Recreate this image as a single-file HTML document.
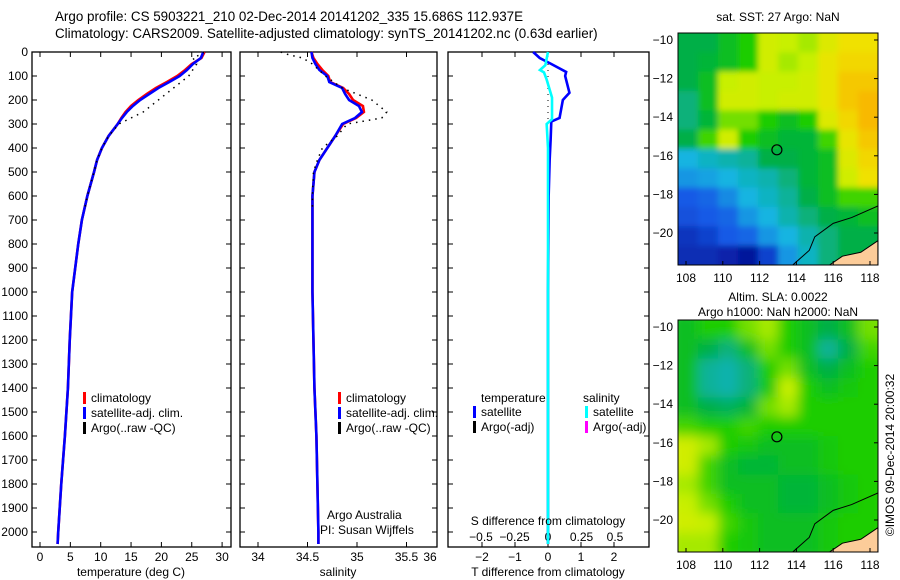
<!DOCTYPE html>
<html><head><meta charset="utf-8"><style>
body{margin:0;background:#fff;}
svg{display:block;font-family:"Liberation Sans",sans-serif;}
</style></head><body>
<svg id="c" width="900" height="580" xmlns="http://www.w3.org/2000/svg">
<text x="55" y="21" font-size="13.4">Argo profile: CS 5903221_210 02-Dec-2014 20141202_335 15.686S 112.937E</text>
<text x="55" y="38" font-size="13.4">Climatology: CARS2009. Satellite-adjusted climatology: synTS_20141202.nc (0.63d earlier)</text>
<g id="g"></g>
</svg>
<script>
// ---- profile data ----
const depths = [0,25,50,75,100,125,150,175,200,225,250,275,300,350,400,450,500,600,700,800,900,1000,1200,1400,1600,1800,2000,2050];
const tempSat = [26.9,26.5,25.2,24.2,23,21.3,19.5,18,16.5,15.3,14.3,13.5,12.8,11.3,10.2,9.4,8.9,7.8,6.9,6.3,5.8,5.3,4.9,4.6,4.1,3.5,3.0,2.9];
const tempClim = [27.1,26.6,25.0,23.9,22.6,20.9,19.1,17.6,16.2,15.0,14.1,13.4,12.8,11.3,10.2,9.4,8.9,7.8,6.9,6.3,5.8,5.3,4.9,4.6,4.1,3.5,3.0,2.9];
const argoDepths = [0,10,25,50,100,150,200,250,275,300,350,400,450,500,600,650];
const tempArgo = [27,26.5,25.2,25.8,24.5,22,19.5,17,15,13,11.3,10.2,9.4,8.9,7.8,7.4];
const salSat = [34.54,34.55,34.58,34.62,34.7,34.72,34.85,34.88,34.92,35.02,35.05,34.98,34.85,34.78,34.7,34.62,34.57,34.55,34.55,34.55,34.55,34.55,34.56,34.57,34.59,34.6,34.61,34.61];
const salClim = [34.54,34.56,34.6,34.65,34.71,34.73,34.86,34.92,34.96,35.06,35.07,34.99,34.86,34.78,34.7,34.62,34.57,34.55,34.55,34.55,34.55,34.55,34.56,34.57,34.59,34.6,34.61,34.61];
const salArgo = [34.23,34.3,34.45,34.55,34.68,34.85,35.15,35.3,35.25,34.9,34.8,34.65,34.6,34.56,34.55,34.55];
const tdiffDepths = [0,25,50,83,100,170,200,275,290,365,450,600,1000,2050];
const tdiffSat = [-0.45,-0.25,0.1,0.55,0.52,0.65,0.45,0.35,0.1,0.08,0.05,0.02,0,0];
const sdiffDepths = [0,55,75,85,115,190,280,300,400,2050];
const sdiffSat = [0,-0.02,-0.06,-0.03,-0.01,0.03,0.03,-0.01,0,0];
const tempTicks = [0,5,10,15,20,25,30];
const salTicks = [34,34.5,35,35.5];
const tdTicks = [-2,-1,0,1,2];
const sdTicks = [-0.5,-0.25,0,0.25,0.5];
const depthTicks = [0,100,200,300,400,500,600,700,800,900,1000,1100,1200,1300,1400,1500,1600,1700,1800,1900,2000];
// ---- map data (colormap index 0..1), rows lat -10 -> -21.6, cols lon 107.6 -> 118.4
const sstGrid = [
[0.5,0.5,0.55,0.6,0.72,0.7,0.68,0.75,0.8,0.8],
[0.5,0.52,0.55,0.6,0.72,0.68,0.7,0.78,0.82,0.82],
[0.5,0.55,0.7,0.72,0.7,0.7,0.72,0.78,0.85,0.85],
[0.45,0.55,0.72,0.72,0.7,0.72,0.72,0.78,0.85,0.88],
[0.45,0.52,0.65,0.65,0.6,0.55,0.6,0.75,0.82,0.88],
[0.5,0.62,0.72,0.6,0.55,0.52,0.52,0.62,0.78,0.85],
[0.35,0.38,0.4,0.42,0.5,0.5,0.52,0.55,0.75,0.82],
[0.3,0.32,0.35,0.38,0.4,0.45,0.52,0.55,0.72,0.8],
[0.2,0.22,0.28,0.35,0.38,0.42,0.5,0.55,0.62,0.62],
[0.18,0.2,0.22,0.3,0.35,0.4,0.45,0.5,0.52,0.55],
[0.12,0.15,0.2,0.22,0.3,0.35,0.4,0.45,0.5,0.5],
[0.1,0.1,0.08,0.05,0.15,0.3,0.38,0.45,0.5,0.5]];
const slaGrid = [
[0.55,0.6,0.6,0.65,0.68,0.6,0.55,0.5,0.55,0.65],
[0.55,0.5,0.45,0.55,0.65,0.6,0.55,0.42,0.5,0.62],
[0.55,0.42,0.4,0.45,0.6,0.65,0.55,0.5,0.55,0.6],
[0.55,0.42,0.4,0.45,0.58,0.7,0.6,0.55,0.58,0.6],
[0.55,0.5,0.48,0.52,0.65,0.68,0.6,0.6,0.6,0.6],
[0.62,0.6,0.6,0.62,0.6,0.6,0.6,0.6,0.6,0.6],
[0.72,0.68,0.6,0.58,0.55,0.55,0.55,0.58,0.6,0.6],
[0.72,0.62,0.55,0.52,0.52,0.55,0.55,0.58,0.6,0.6],
[0.68,0.62,0.55,0.55,0.55,0.52,0.52,0.55,0.58,0.6],
[0.7,0.65,0.6,0.55,0.55,0.52,0.52,0.55,0.58,0.6],
[0.72,0.7,0.62,0.58,0.55,0.55,0.55,0.58,0.6,0.6],
[0.68,0.68,0.6,0.58,0.55,0.55,0.55,0.58,0.6,0.6]];
const lonTicks = [108,110,112,114,116,118];
const latTicks = [-10,-12,-14,-16,-18,-20];
const coastLon = [113.8,114.7,115,116,117,118.43];
const coastLat = [-21.66,-20.9,-20.2,-19.5,-19.2,-18.6];
const landLon = [115.8,116.5,117.5,118.43,118.43];
const landLat = [-21.66,-21.2,-21,-20.4,-21.66];
const argoLon = 112.94, argoLat = -15.69;

const NS="http://www.w3.org/2000/svg", G=document.getElementById('g');
function el(t,a,p){const e=document.createElementNS(NS,t);for(const k in a)e.setAttribute(k,a[k]);(p||G).appendChild(e);return e;}
function txt(x,y,s,fs,anchor,p){const e=el('text',{x:x,y:y,'font-size':fs||12,'text-anchor':anchor||'start'},p);e.textContent=s;return e;}
const Y=d=>52+d*0.24, TOP=52, BOT=547;

function panel(x0,x1,name){
  const r=el('rect',{x:x0,y:TOP,width:x1-x0,height:BOT-TOP,fill:'none',stroke:'#000','stroke-width':1.3});
  
  
  depthTicks.forEach(d=>{el('line',{x1:x0,x2:x0+5,y1:Y(d),y2:Y(d),stroke:'#000'});el('line',{x1:x1-5,x2:x1,y1:Y(d),y2:Y(d),stroke:'#000'});});
}
function xticks(xs,X,labels,ly,name){
  xs.forEach((v,i)=>{const x=X(v);el('line',{x1:x,x2:x,y1:TOP,y2:TOP+5,stroke:'#000'});el('line',{x1:x,x2:x,y1:BOT-5,y2:BOT,stroke:'#000'});
    const t=txt(x,ly,labels[i],12,'middle');
    
    });
}
function line(xs,ds,X,col,w,dash,name){
  const p=el('polyline',{points:xs.map((v,i)=>X(v)+','+Y(ds[i])).join(' '),fill:'none',stroke:col,'stroke-width':w,'stroke-dasharray':dash||'none'});
  
  
}
function legend(x,y,items){
  items.forEach((it,i)=>{el('rect',{x:x,y:y+i*15-10,width:3,height:12,fill:it[0]});
    const t=txt(x+8,y+i*15,it[1],12);
    
    });
}
depthTicks.forEach(d=>{const t=txt(28,Y(d)+4,String(d),12,'end');
  
  });

// panel 1 temperature
const XT=v=>40+v*6.07;
panel(32,231,'temperature-panel');
xticks(tempTicks,XT,tempTicks.map(String),561,'temperature-tick-label');
line(tempClim,depths,XT,'#f00',2.6,null,'climatology-temp-line');
line(tempSat,depths,XT,'#00f',2.6,null,'satellite-temp-line');
line(tempArgo,argoDepths,XT,'#000',1.5,'1.5,5','argo-temp-line');
txt(131,576,'temperature (deg C)',12,'middle');
legend(83,402,[['#f00','climatology'],['#00f','satellite-adj. clim.'],['#000','Argo(..raw -QC)']]);

// panel 2 salinity
const XS=v=>258+(v-34)*99;
panel(240,437,'salinity-panel');
xticks(salTicks,XS,salTicks.map(String),561,'salinity-tick-label');
txt(430,561,'36',12,'middle');
line(salClim,depths,XS,'#f00',2.6,null,'climatology-sal-line');
line(salSat,depths,XS,'#00f',2.6,null,'satellite-sal-line');
line(salArgo,argoDepths,XS,'#000',1.5,'1.5,5','argo-sal-line');
txt(338,576,'salinity',12,'middle');
legend(338,402,[['#f00','climatology'],['#00f','satellite-adj. clim.'],['#000','Argo(..raw -QC)']]);
txt(327,519,'Argo Australia',12);
txt(320,534,'PI: Susan Wijffels',12);

// panel 3 differences
const XD=v=>548+v*33, XSD=v=>548+v*134;
panel(448,649,'difference-panel');
tdTicks.forEach(v=>{const x=XD(v);el('line',{x1:x,x2:x,y1:TOP,y2:TOP+5,stroke:'#000'});el('line',{x1:x,x2:x,y1:BOT-5,y2:BOT,stroke:'#000'});
  const t=txt(x,561,String(v).replace('-','−'),12,'middle');
  
  });
sdTicks.forEach(v=>{const t=txt(XSD(v),541,String(v).replace('-','−'),12,'middle');
  
  });
el('line',{x1:548,x2:548,y1:Y(50),y2:Y(280),stroke:'#000','stroke-dasharray':'1,5'});
line(tdiffSat,tdiffDepths,XD,'#00f',2.6,null,'tdiff-satellite-line');
line(sdiffSat,sdiffDepths,XSD,'#0ff',2.6,null,'sdiff-satellite-line');
txt(548,525,'S difference from climatology',12,'middle');
txt(548,576,'T difference from climatology',12,'middle');
txt(481,402,'temperature',12);txt(583,402,'salinity',12);
legend(473,416,[['#00f','satellite'],['#000','Argo(-adj)']]);
legend(585,416,[['#0ff','satellite'],['#f0f','Argo(-adj)']]);

// maps
const cmapStops=[[0,[0,0,130]],[0.2,[20,90,230]],[0.35,[20,180,225]],[0.5,[0,175,70]],[0.6,[30,205,0]],[0.7,[200,240,0]],[0.8,[240,225,0]],[0.9,[250,175,0]],[1,[240,110,0]]];
function cmap(v){for(let i=1;i<cmapStops.length;i++){if(v<=cmapStops[i][0]){const a=cmapStops[i-1],b=cmapStops[i],t=(v-a[0])/(b[0]-a[0]);
  return 'rgb('+a[1].map((c,k)=>Math.round(c+(b[1][k]-c)*t)).join(',')+')';}}return 'rgb(240,110,0)';}
function map(x0,y0,grid,blurId,name){
  const W=200,H=232, LX=v=>x0+8+(v-108)*18.4, LY=v=>y0+7+(-10-v)*19.3;
  const clip=el('clipPath',{id:'cl'+name});el('rect',{x:x0,y:y0,width:W,height:H},clip);
  const g=el('g',{'clip-path':'url(#cl'+name+')'});
  
  
  const inner=el('g',{filter:'url(#'+blurId+')'},g);
  const cw=W/grid[0].length, ch=H/grid.length;
  grid.forEach((row,r)=>row.forEach((v,c)=>{
    const ex=(c===0?-10:0), ey=(r===0?-10:0), ew=(c===row.length-1?10:0), eh=(r===grid.length-1?10:0);
    const cell=el('rect',{x:x0+c*cw+ex,y:y0+r*ch+ey,width:cw+0.5-ex+ew,height:ch+0.5-ey+eh,fill:cmap(v)},inner);
    
    }));
  el('polygon',{points:landLon.map((v,i)=>LX(v)+','+LY(landLat[i])).join(' ')+' '+(x0+W)+','+(y0+H),fill:'#fccc99',stroke:'#000','stroke-width':1},g);
  el('polyline',{points:coastLon.map((v,i)=>LX(v)+','+LY(coastLat[i])).join(' '),fill:'none',stroke:'#000','stroke-width':1},g);
  el('rect',{x:x0,y:y0,width:W,height:H,fill:'none',stroke:'#000'});
  const c=el('circle',{cx:LX(argoLon),cy:LY(argoLat),r:5,fill:'none',stroke:'#000','stroke-width':1.2});
  
  
  lonTicks.forEach(v=>{el('line',{x1:LX(v),x2:LX(v),y1:y0+H-4,y2:y0+H,stroke:'#000'});txt(LX(v),y0+H+17,String(v),12,'middle');});
  latTicks.forEach(v=>{el('line',{x1:x0+W-4,x2:x0+W,y1:LY(v),y2:LY(v),stroke:'#000'});txt(x0-5,LY(v)+4,String(v).replace('-','−'),12,'end');});
}
const defs=el('defs',{});
const f=el('filter',{id:'bl',x:'-10%',y:'-10%',width:'120%',height:'120%'},defs);el('feGaussianBlur',{stdDeviation:6},f);
const f2=el('filter',{id:'bl2',x:'-10%',y:'-10%',width:'120%',height:'120%'},defs);el('feGaussianBlur',{stdDeviation:3},f2);
map(678,33,sstGrid,'bl2','sst-map');
map(678,320,slaGrid,'bl','sla-map');
txt(778,21,'sat. SST: 27 Argo: NaN',12,'middle');
txt(778,301,'Altim. SLA: 0.0022',12,'middle');
txt(778,316,'Argo h1000: NaN h2000: NaN',12,'middle');
const cr=txt(0,0,'©IMOS 09-Dec-2014 20:00:32',12,'middle');
cr.setAttribute('transform','translate(894,455) rotate(-90)');


</script>
</body></html>
